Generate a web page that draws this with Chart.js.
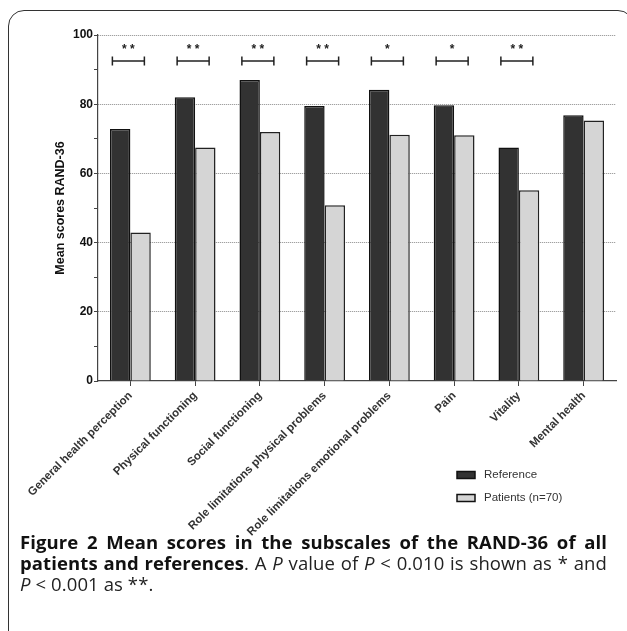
<!DOCTYPE html>
<html>
<head>
<meta charset="utf-8">
<script src="https://cdn.jsdelivr.net/npm/chart.js@4.4.1/dist/chart.umd.min.js"></script>
<style>
    html, body { margin: 0; padding: 0; background: #fff; overflow: hidden; }
    body { width: 627px; height: 631px; position: relative; }
    .frame {
        position: absolute; left: 8px; top: 10px; width: 626px; height: 650px;
        border: 1.5px solid #333; border-radius: 16px; box-sizing: border-box;
    }
    #chart { position: absolute; left: 0; top: 0; }
    .caption {
        position: absolute; left: 20px; top: 531px; width: 587px; z-index: 2;
        font-family: "Open Sans", sans-serif; font-size: 18.5px; line-height: 21px;
        letter-spacing: 0.1px; color: #222;
    }
    .caption div { white-space: nowrap; }
    .caption .j { text-align: justify; text-align-last: justify; }
    .caption b { color: #111; }
</style>
</head>
<body>
<div class="frame"></div>
<canvas id="chart" width="627" height="560"></canvas>
<div class="caption">
    <div class="j"><b>Figure 2 Mean scores in the subscales of the RAND-36 of all</b></div>
    <div class="j"><b>patients and references</b>. A <i>P</i> value of <i>P</i> &lt; 0.010 is shown as * and</div>
    <div><i>P</i> &lt; 0.001 as **.</div>
</div>

<script>
// data
const categories = [
    'General health perception', 'Physical functioning', 'Social functioning',
    'Role limitations physical problems', 'Role limitations emotional problems',
    'Pain', 'Vitality', 'Mental health'
];
const referenceScores = [72.8, 82.0, 87.0, 79.5, 84.2, 79.7, 67.5, 76.8];
const patientScores = [42.9, 67.5, 72.0, 50.8, 71.2, 71.0, 55.1, 75.3];
const significance = ['**', '**', '**', '**', '*', '*', '**', ''];
const bracketLevel = 92.5;
const starLevel = 96.2;
const yTicks = [0, 20, 40, 60, 80, 100];

// significance brackets above each pair
const bracketPlugin = {
    id: 'brackets',
    afterDatasetsDraw(chart) {
        const { ctx, scales: { x, y } } = chart;
        ctx.save();
        ctx.strokeStyle = '#222';
        ctx.fillStyle = '#222';
        ctx.lineWidth = 1.5;
        ctx.font = 'bold 12px Arial';
        ctx.textAlign = 'center';
        ctx.textBaseline = 'middle';
        significance.forEach((s, i) => {
            if (!s) return;
            const cx = x.getPixelForValue(i);
            const by = y.getPixelForValue(bracketLevel);
            const l = cx - 18, r = cx + 14;
            ctx.beginPath();
            ctx.moveTo(l, by); ctx.lineTo(r, by);
            ctx.moveTo(l, by - 4.5); ctx.lineTo(l, by + 4.5);
            ctx.moveTo(r, by - 4.5); ctx.lineTo(r, by + 4.5);
            ctx.stroke();
            ctx.fillText(s.split('').join(' '), cx - 2, y.getPixelForValue(starLevel) + 2);
        });
        ctx.restore();
    }
};

// legend below the plot, bottom right
const legendPlugin = {
    id: 'sideLegend',
    afterDraw(chart) {
        const ctx = chart.ctx;
        ctx.save();
        ctx.font = '11.5px Arial';
        ctx.textBaseline = 'middle';
        chart.data.datasets.forEach((ds, i) => {
            const yy = 475 + i * 23;
            ctx.fillStyle = ds.backgroundColor;
            ctx.strokeStyle = '#111';
            ctx.lineWidth = 1.5;
            ctx.fillRect(457, yy - 3.5, 18, 7);
            ctx.strokeRect(457, yy - 3.5, 18, 7);
            ctx.fillStyle = '#333';
            ctx.fillText(ds.label, 484, yy);
        });
        ctx.restore();
    }
};

new Chart(document.getElementById('chart'), {
    type: 'bar',
    data: {
        labels: categories,
        datasets: [
            { label: 'Reference', data: referenceScores, backgroundColor: '#323232', borderColor: '#111', borderWidth: 1.5 },
            { label: 'Patients (n=70)', data: patientScores, backgroundColor: '#d5d5d5', borderColor: '#222', borderWidth: 1.5 }
        ]
    },
    options: {
        responsive: false,
        animation: false,
        categoryPercentage: 0.63,
        barPercentage: 1,
        layout: { padding: { left: 51, top: 35, right: 11, bottom: 0 } },
        plugins: {
            legend: { display: false },
            tooltip: { enabled: false }
        },
        scales: {
            x: {
                afterFit: (scale) => { scale.height = 179; },
                grid: { offset: false, drawOnChartArea: false, tickLength: 5, tickColor: '#444', tickWidth: 1 },
                border: { color: '#444', width: 1.2 },
                ticks: {
                    autoSkip: false, maxRotation: 45, minRotation: 45, padding: 3,
                    color: '#333', font: { family: 'Arial', size: 11.5, weight: 'bold' }
                }
            },
            y: {
                min: 0, max: 100,
                afterFit: (scale) => { scale.width = 47; },
                ticks: {
                    stepSize: 10, padding: 1, color: '#111',
                    font: { family: 'Arial', size: 12, weight: 'bold' },
                    callback: (v) => yTicks.includes(v) ? v : ''
                },
                grid: {
                    color: (c) => (c.tick && c.tick.value > 0 && c.tick.value % 20 === 0) ? '#8a8a8a' : 'rgba(0,0,0,0)',
                    lineWidth: 1,
                    tickLength: 4, tickColor: '#444', tickWidth: 1
                },
                border: { color: '#444', width: 1.2, dash: [1, 1] },
                title: {
                    display: true, text: 'Mean scores RAND-36', color: '#111', padding: 2,
                    font: { family: 'Arial', size: 12.5, weight: 'bold' }
                }
            }
        }
    },
    plugins: [bracketPlugin, legendPlugin]
});
</script>
</body>
</html>
